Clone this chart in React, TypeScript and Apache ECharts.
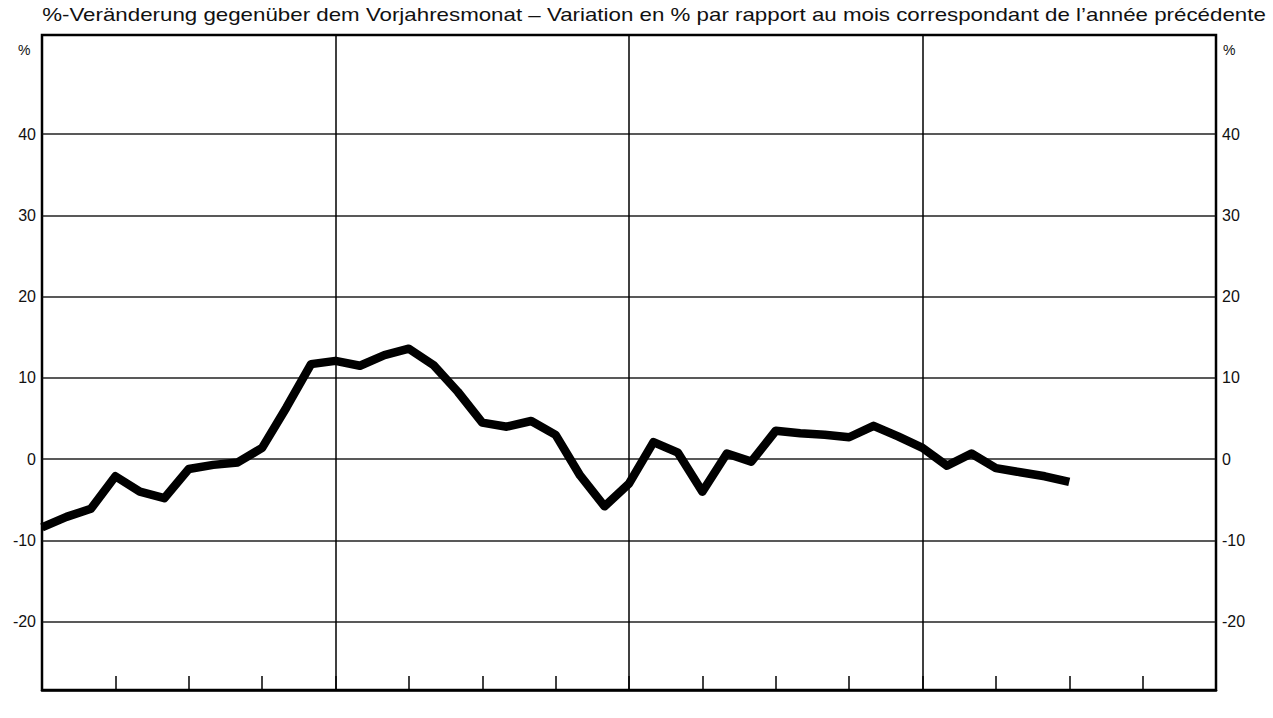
import React, { useEffect, useRef } from "react";
import * as echarts from "echarts";

const titleText =
  "%-Veränderung gegenüber dem Vorjahresmonat – Variation en % par rapport au mois correspondant de l’année précédente";

// Monthly year-on-year change (%), month 0 .. month 42 of a 48-month window
const values = [
  -8.4, -7.1, -6.1, -2.1, -4.0, -4.8, -1.2, -0.7, -0.4, 1.4, 6.4, 11.7,
  12.1, 11.5, 12.8, 13.6, 11.6, 8.3, 4.5, 4.0, 4.7, 3.0, -2.0, -5.8,
  -3.0, 2.1, 0.8, -4.0, 0.7, -0.3, 3.5, 3.2, 3.0, 2.7, 4.1, 2.8,
  1.4, -0.8, 0.7, -1.1, -1.6, -2.1, -2.8,
];

const yTicks = [-20, -10, 0, 10, 20, 30, 40];
const yMin = -28.4;
const yMax = 52.2;
const monthsTotal = 48;
const quarterStep = 3;
const yearStep = 12;
const unitLabel = "%";

export default function App() {
  const ref = useRef<HTMLDivElement>(null);
  useEffect(() => {
    if (!ref.current) return;
    const chart = echarts.init(ref.current, null, { renderer: "svg" });
    const font = "'Liberation Sans', Arial, Helvetica, sans-serif";
    const labelStyle = { fontFamily: font, fontSize: 16, color: "#111" };
    chart.setOption({
      animation: false,
      backgroundColor: "#ffffff",
      grid: {
        left: 42,
        right: 57,
        top: 35,
        bottom: 28,
        show: true,
        borderColor: "#000",
        borderWidth: 2.5,
        backgroundColor: "transparent",
      },
      xAxis: [
        {
          type: "value",
          min: 0,
          max: monthsTotal,
          interval: quarterStep,
          position: "bottom",
          axisLine: { show: true, onZero: false, lineStyle: { color: "#000", width: 2.5 } },
          axisTick: { show: true, inside: true, length: 14, lineStyle: { color: "#000", width: 1.5 } },
          axisLabel: { show: false },
          splitLine: { show: false },
        },
        {
          type: "value",
          min: 0,
          max: monthsTotal,
          interval: yearStep,
          position: "bottom",
          axisLine: { show: false, onZero: false },
          axisTick: { show: false },
          axisLabel: { show: false },
          splitLine: { show: true, lineStyle: { color: "#000", width: 1.5 } },
        },
      ],
      yAxis: [
        {
          type: "value",
          min: yMin,
          max: yMax,
          position: "left",
          axisLine: { show: false },
          axisTick: { show: false, customValues: yTicks },
          axisLabel: { ...labelStyle, margin: 6, customValues: yTicks },
          splitLine: { show: true, lineStyle: { color: "#222", width: 1.5 } },
        },
        {
          type: "value",
          min: yMin,
          max: yMax,
          position: "right",
          axisLine: { show: false },
          axisTick: { show: false, customValues: yTicks },
          axisLabel: { ...labelStyle, margin: 6, customValues: yTicks },
          splitLine: { show: false },
        },
      ],
      series: [
        {
          type: "line",
          xAxisIndex: 0,
          yAxisIndex: 0,
          data: values.map((v, i) => [i, v]),
          symbol: "none",
          showSymbol: false,
          lineStyle: { color: "#000", width: 8.5, join: "round", cap: "butt" },
          z: 5,
        },
      ],
      graphic: [
        {
          type: "text",
          x: 654,
          y: 15,
          scaleX: 1.24,
          style: {
            text: titleText,
            font: `18px ${font}`,
            fill: "#111",
            align: "center",
            verticalAlign: "middle",
          },
        },
        { type: "text", left: 18, top: 43, style: { text: unitLabel, font: `14px ${font}`, fill: "#111" } },
        { type: "text", left: 1223, top: 43, style: { text: unitLabel, font: `14px ${font}`, fill: "#111" } },
      ],
    });
    return () => chart.dispose();
  }, []);
  return (
    <div
      ref={ref}
      style={{ position: "absolute", left: 0, top: 0, width: 1273, height: 718 }}
    />
  );
}
